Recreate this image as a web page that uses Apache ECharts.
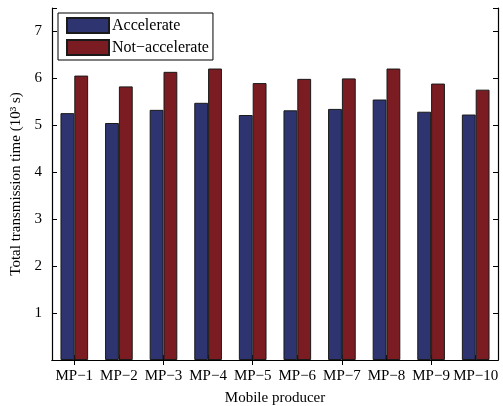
<!DOCTYPE html>
<html>
<head>
    <meta charset="utf-8">
    <title>ECharts</title>
    <script type="text/javascript" src="https://cdn.jsdelivr.net/npm/echarts@6/dist/echarts.min.js"></script>
    <style>
        body { margin: 0; background: #fff; }
    </style>
</head>
<body>
    <div id="main" style="width: 503px;height:406px;"></div>

    <script type="text/javascript">
        // data
        var categories = ['MP\u22121', 'MP\u22122', 'MP\u22123', 'MP\u22124', 'MP\u22125',
                          'MP\u22126', 'MP\u22127', 'MP\u22128', 'MP\u22129', 'MP\u221210'];
        var accelerate = [5.26, 5.05, 5.33, 5.48, 5.22, 5.32, 5.35, 5.55, 5.29, 5.23];
        var notAccelerate = [6.06, 5.83, 6.14, 6.21, 5.90, 5.99, 6.00, 6.21, 5.89, 5.76];
        var yTicks = [1, 2, 3, 4, 5, 6, 7];

        var font = 'Liberation Serif';
        var myChart = echarts.init(document.getElementById('main'));

        var axisLine = { show: true, lineStyle: { color: '#000', width: 1.2 } };
        var tickStyle = { show: true, inside: true, length: 5, lineStyle: { color: '#000' } };

        myChart.setOption({
            animation: false,
            grid: { left: 52, right: 5, top: 8, bottom: 46, outerBoundsMode: 'none', containLabel: false },
            legend: {
                orient: 'vertical',
                left: 58, top: 13,
                icon: 'rect',
                itemWidth: 42, itemHeight: 15, itemGap: 5,
                padding: [4, 4, 4, 8],
                borderColor: '#000', borderWidth: 1,
                backgroundColor: '#fff',
                textStyle: { fontFamily: font, fontSize: 16, color: '#000', padding: [0, 0, 0, -2] },
                data: ['Accelerate', 'Not\u2212accelerate']
            },
            xAxis: [{
                type: 'category',
                data: categories,
                name: 'Mobile producer',
                nameLocation: 'middle',
                nameGap: 31,
                nameTextStyle: { fontFamily: font, fontSize: 15, color: '#000' },
                axisLine: axisLine,
                axisTick: Object.assign({ alignWithLabel: true }, tickStyle),
                axisLabel: { fontFamily: font, fontSize: 15, color: '#000', margin: 9, interval: 0 }
            }, {
                type: 'category',
                data: categories,
                position: 'top',
                axisLine: axisLine,
                axisTick: Object.assign({ alignWithLabel: true }, tickStyle),
                axisLabel: { show: false }
            }],
            yAxis: [{
                type: 'value',
                min: 0, max: 7.5, interval: 1,
                name: 'Total transmission time (10\u00b3 s)',
                nameLocation: 'middle',
                nameGap: 28,
                nameTextStyle: { fontFamily: font, fontSize: 15, color: '#000' },
                axisLine: axisLine,
                axisTick: tickStyle,
                splitLine: { show: false },
                axisLabel: {
                    fontFamily: font, fontSize: 15, color: '#000', margin: 10,
                    formatter: function (v) { return yTicks.indexOf(v) >= 0 ? String(v) : ''; }
                }
            }, {
                type: 'value',
                min: 0, max: 7.5, interval: 1,
                position: 'right',
                axisLine: axisLine,
                axisTick: tickStyle,
                splitLine: { show: false },
                axisLabel: { show: false }
            }],
            series: [{
                name: 'Accelerate',
                type: 'bar',
                data: accelerate,
                barWidth: '31%',
                barGap: '0%',
                itemStyle: { color: '#2d346f', borderColor: '#1a1a1a', borderWidth: 1 }
            }, {
                name: 'Not\u2212accelerate',
                type: 'bar',
                data: notAccelerate,
                barWidth: '31%',
                barGap: '0%',
                itemStyle: { color: '#7a1c22', borderColor: '#1a1a1a', borderWidth: 1 }
            }]
        });
    </script>
</body>
</html>
